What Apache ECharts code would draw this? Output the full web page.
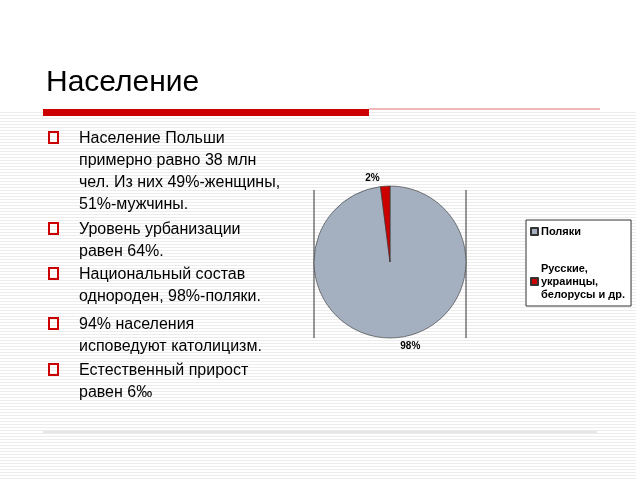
<!DOCTYPE html>
<html><head><meta charset="utf-8">
<script src="https://cdn.jsdelivr.net/npm/echarts@6/dist/echarts.min.js"></script>
<style>html,body{margin:0;padding:0;background:#fff}#data{width:640px;height:480px}</style>
</head><body><div id="data"></div>
<script>
var categories = ['Поляки', 'Русские,\nукраинцы,\nбелорусы и др.'];
var shares = [98, 2];
var colors = ['#a4b0bf', '#cc0000'];
var bullets = [
  ['Население Польши', 'примерно равно 38 млн', 'чел. Из них 49%-женщины,', '51%-мужчины.'],
  ['Уровень урбанизации', 'равен 64%.'],
  ['Национальный состав', 'однороден, 98%-поляки.'],
  ['94% населения', 'исповедуют католицизм.'],
  ['Естественный прирост', 'равен 6‰']
];
var bulletTops = [128, 219, 264, 314, 360];

var chart = echarts.init(document.getElementById('data'));
var g = [];
// полосатый фон
for (var y = 112; y < 480; y += 3) {
  g.push({ type: 'rect', shape: { x: 0, y: y, width: 636, height: 1 }, style: { fill: '#ececec' }, silent: true });
}
g.push({ type: 'rect', shape: { x: 43, y: 109, width: 326, height: 7 }, style: { fill: '#cc0000' } });
g.push({ type: 'line', shape: { x1: 369, y1: 109, x2: 600, y2: 109 }, style: { stroke: '#e07070', lineWidth: 1 } });
g.push({ type: 'line', shape: { x1: 43, y1: 432, x2: 597, y2: 432 }, style: { stroke: '#cccccc', lineWidth: 1 } });
g.push({ type: 'text', left: 46, top: 68, style: { text: 'Население', font: '30px "Liberation Sans", Arial', fill: '#000' } });
bullets.forEach(function (lines, i) {
  g.push({ type: 'rect', shape: { x: 49, y: bulletTops[i] + 4, width: 9, height: 11 }, style: { fill: 'none', stroke: '#cc0000', lineWidth: 2 } });
  g.push({ type: 'text', left: 79, top: bulletTops[i], style: { text: lines.join('\n'), font: '16px "Liberation Sans", Arial', lineHeight: 22, fill: '#000' } });
});
g.push({ type: 'line', shape: { x1: 314, y1: 190, x2: 314, y2: 338 }, style: { stroke: '#333', lineWidth: 1 } });
g.push({ type: 'line', shape: { x1: 466, y1: 190, x2: 466, y2: 338 }, style: { stroke: '#333', lineWidth: 1 } });

chart.setOption({
  animation: false,
  color: colors,
  graphic: g,
  legend: {
    orient: 'vertical',
    left: 526, top: 220,
    padding: [5, 6, 5, 4],
    itemGap: 24,
    itemWidth: 7, itemHeight: 7,
    borderColor: '#333', borderWidth: 1,
    backgroundColor: '#fff',
    icon: 'rect',
    data: categories,
    textStyle: { fontFamily: 'Liberation Sans', fontWeight: 'bold', fontSize: 11, lineHeight: 13, color: '#000', padding: [0, 0, 0, -2] }
  },
  series: [{
    type: 'pie',
    center: [390, 262],
    radius: 76,
    startAngle: 90,
    clockwise: true,
    itemStyle: { borderColor: '#333', borderWidth: 0.6 },
    label: { show: true, position: 'outside', formatter: '{c}%', fontFamily: 'Liberation Sans', fontWeight: 'bold', fontSize: 10, color: '#000' },
    labelLine: { show: false, length: 8, length2: 0 },
    data: categories.map(function (c, i) { return { name: c, value: shares[i] }; })
  }]
});
</script></body></html>
